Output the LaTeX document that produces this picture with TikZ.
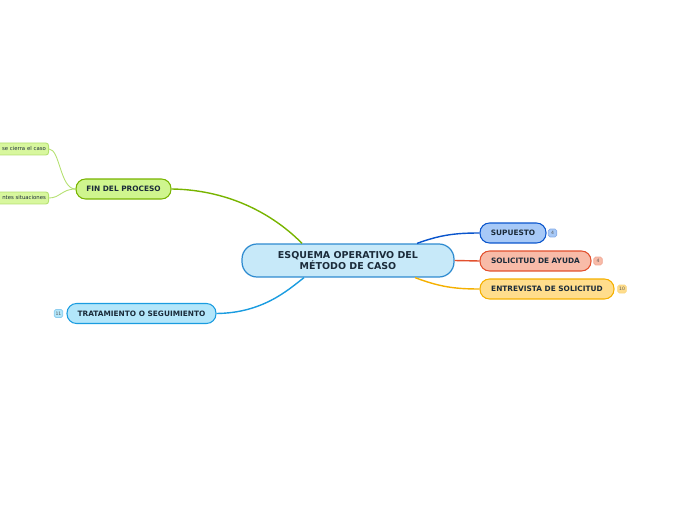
\documentclass[tikz,border=0pt]{standalone}
\usepackage{fontspec}
\setmainfont{DejaVu Sans}
\usepackage{tikz}
\usetikzlibrary{calc}

\definecolor{inkdark}{HTML}{1B2B3A}
\definecolor{centfill}{HTML}{C7E9F9}
\definecolor{centline}{HTML}{2E8BD0}
\definecolor{supfill}{HTML}{A7C9F7}
\definecolor{supline}{HTML}{0A55CC}
\definecolor{solfill}{HTML}{F8BBA8}
\definecolor{solline}{HTML}{E2502E}
\definecolor{entfill}{HTML}{FFDD8C}
\definecolor{entline}{HTML}{F5B000}
\definecolor{finfill}{HTML}{CFF58E}
\definecolor{finline}{HTML}{78B400}
\definecolor{trafill}{HTML}{B3E6FA}
\definecolor{traline}{HTML}{1A9CE0}
\definecolor{leaffill}{HTML}{D8F79E}
\definecolor{leafline}{HTML}{B4E070}

\begin{document}
\begin{tikzpicture}[x=0.02cm, y=-0.02cm, text=inkdark,
  topic/.style={draw, line width=0.6pt, rounded corners=0.19cm, minimum height=0.4cm,
    inner sep=0pt, font=\fontsize{4.2}{5}\selectfont\bfseries},
  central/.style={draw=centline, fill=centfill, line width=0.7pt, rounded corners=0.3cm,
    minimum width=4.24cm, minimum height=0.66cm, inner sep=0pt, align=center,
    font=\fontsize{5.4}{6.6}\selectfont\bfseries},
  leaf/.style={draw=leafline, fill=leaffill, line width=0.5pt, rounded corners=1.5pt,
    minimum height=0.24cm, inner sep=1.5pt, text width=1.3cm, align=right, anchor=east,
    font=\fontsize{3.05}{3.4}\selectfont},
  badge/.style={draw, line width=0.4pt, rounded corners=1pt, minimum height=0.16cm,
    minimum width=0.17cm, inner sep=0.8pt, text=gray!70!black, font=\fontsize{2.6}{3}\selectfont},
  link/.style={line width=0.8pt},
]
  \useasboundingbox (0,0) rectangle (696,520);

  % centre
  \node[central] (cent) at (348,260.5) {ESQUEMA OPERATIVO DEL\\M\'ETODO DE CASO};

  % right side
  \node[topic, draw=supline, fill=supfill, minimum width=1.32cm] (sup) at (513,233) {SUPUESTO};
  \node[topic, draw=solline, fill=solfill, minimum width=2.22cm] (sol) at (535.5,261) {SOLICITUD DE AYUDA};
  \node[topic, draw=entline, fill=entfill, minimum width=2.68cm] (ent) at (547,289) {ENTREVISTA DE SOLICITUD};
  \node[badge, draw=supline!50, fill=supfill] (supn) at (552.5,233) {4};
  \node[badge, draw=solline!50, fill=solfill] (soln) at (598,261) {4};
  \node[badge, draw=entline!50, fill=entfill] (entn) at (622,289) {10};

  % left side
  \node[topic, draw=finline, fill=finfill, minimum width=1.9cm] (fin) at (123.5,189) {FIN DEL PROCESO};
  \node[topic, draw=traline, fill=trafill, minimum width=2.98cm] (tra) at (141.5,313.5) {TRATAMIENTO O SEGUIMIENTO};
  \node[badge, draw=traline!50, fill=trafill] (tran) at (58.5,313.5) {11};

  \node[leaf] (cierre) at (49,149) {se cierra el caso};
  \node[leaf] (situac) at (49,198) {ntes situaciones};

  % connectors
  \draw[link, supline] ($(cent.north)+(69,0)$) .. controls (440,235) and (455,233) .. (sup.west);
  \draw[link, solline] (cent.east) -- (sol.west);
  \draw[link, entline] ($(cent.south)+(67,0)$) .. controls (440,287) and (455,289) .. (ent.west);
  \draw[link, finline] (fin.east) .. controls (240,190) and (283,224) .. ($(cent.north)+(-46,0)$);
  \draw[link, traline] (tra.east) .. controls (262,313) and (287,291) .. ($(cent.south)+(-44,0)$);
  \draw[line width=0.5pt, leafline] (cierre.east) .. controls (60,149) and (60,189) .. (fin.west);
  \draw[line width=0.5pt, leafline] (situac.east) .. controls (60,198) and (62,189) .. (fin.west);
\end{tikzpicture}
\end{document}
